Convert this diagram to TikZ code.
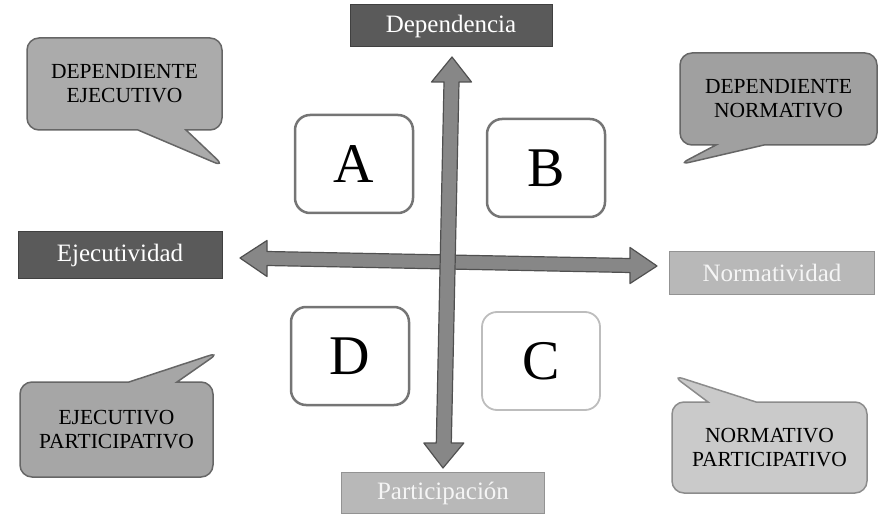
\documentclass[tikz,border=0pt]{standalone}
\usepackage{fontspec}
\setmainfont{Liberation Serif}
\usetikzlibrary{shapes.callouts}
\definecolor{dkgray}{HTML}{5A5A5A}
\definecolor{ltgray}{HTML}{B8B8B8}
\definecolor{arrowfill}{HTML}{878787}
\definecolor{arrowedge}{HTML}{505050}
\definecolor{qgray}{HTML}{757575}
\definecolor{cgray}{HTML}{BDBDBD}
\definecolor{bubA}{HTML}{ABABAB}
\definecolor{bubB}{HTML}{A0A0A0}
\definecolor{bubD}{HTML}{A6A6A6}
\definecolor{bubC}{HTML}{CACACA}
\begin{document}
\begin{tikzpicture}[x=1pt,y=-1pt,
  axislabel/.style={rectangle, minimum width=204pt, minimum height=43pt, inner sep=0pt,
    font=\fontsize{25}{28}\selectfont, text=white, line width=1pt},
  darklabel/.style={axislabel, fill=dkgray, draw=black!75},
  lightlabel/.style={axislabel, fill=ltgray, draw=gray!85, text=white!92!gray},
  quad/.style={rectangle, rounded corners=15pt, minimum width=118pt, minimum height=98pt,
    draw=qgray, line width=2.5pt, fill=white, font=\fontsize{56}{56}\selectfont},
  bubble/.style={rectangle callout, rounded corners=12pt, draw=black!60, line width=1.5pt,
    align=center, font=\fontsize{21.5}{24}\selectfont, callout pointer width=48pt, inner sep=0pt},
  fatarrow/.style={fill=arrowfill, draw=arrowedge, line width=1.2pt, line join=round}
]
\useasboundingbox (0,0) rectangle (882,518);

% axis labels
\node[darklabel, minimum width=202pt, minimum height=42pt] (dep) at (451,26) {Dependencia};
\node[darklabel, minimum height=46pt] (eje) at (120,255) {Ejecutividad};
\node[lightlabel, minimum width=205pt] (nor) at (772,273) {Normatividad};
\node[lightlabel, minimum width=203pt, minimum height=41pt] (par) at (443,493) {Participación};

% horizontal double arrow
\coordinate (hl) at (240,258);
\coordinate (hr) at (657,266);
\filldraw[fatarrow] (hl) -- (267,240.5) -- (267,251.5) -- (630,258.5) -- (630,247.5) -- (hr)
  -- (630,283.5) -- (630,272.5) -- (267,265.5) -- (267,276.5) -- cycle;

% vertical double arrow
\coordinate (vt) at (452,57);
\coordinate (vb) at (443,468);
\filldraw[fatarrow] (vt) -- (471.5,82) -- (459,82) -- (451.3,443) -- (463.8,443) -- (vb)
  -- (423.8,443) -- (436.3,443) -- (444,82) -- (431.5,82) -- cycle;

% quadrant boxes
\node[quad] (A) at (354,164) {A};
\node[quad] (B) at (546,168) {B};
\node[quad] (D) at (350,356) {D};
\node[quad, draw=cgray, line width=1.8pt] (C) at (541,361) {C};

% callouts
\node[bubble, fill=bubA, minimum width=195pt, minimum height=92pt,
  callout absolute pointer={(225,167)}] (de) at (124.5,84) {DEPENDIENTE\\EJECUTIVO};
\node[bubble, fill=bubB, minimum width=197pt, minimum height=92pt,
  callout absolute pointer={(678,165)}] (dn) at (778.5,99) {DEPENDIENTE\\NORMATIVO};
\node[bubble, fill=bubD, minimum width=193pt, minimum height=95pt,
  callout absolute pointer={(220,352)}] (ep) at (116.5,429.5) {EJECUTIVO\\PARTICIPATIVO};
\node[bubble, fill=bubC, draw=black!45, minimum width=195pt, minimum height=91pt,
  callout absolute pointer={(672,375)}] (np) at (769.5,447.5) {NORMATIVO\\PARTICIPATIVO};
\end{tikzpicture}
\end{document}
